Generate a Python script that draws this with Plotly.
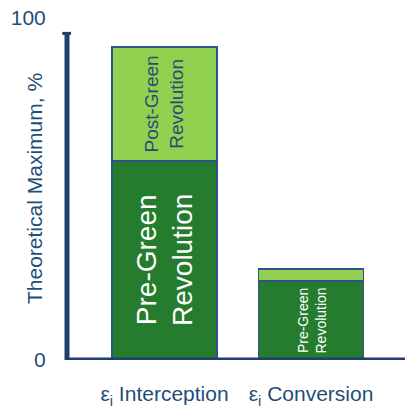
import plotly.graph_objects as go

categories = ["ε<sub>i</sub> Interception", "ε<sub>i</sub> Conversion"]
pre_green = [58.2, 23.1]
post_green = [33.3, 3.5]
y_ticks = [0, 100]
y_axis_top = 95.5

DARK = "#267C2E"
LIGHT = "#92D050"
NAVY = "#1F3F6E"
TEXT = "#1F4E79"
OUTLINE = "#2F528F"
FONT = "Liberation Sans, Arial, sans-serif"

fig = go.Figure()
fig.add_bar(x=categories, y=pre_green, width=0.717, marker=dict(color=DARK, line=dict(color=OUTLINE, width=1.5)),
            hoverinfo="skip")
fig.add_bar(x=categories, y=post_green, width=0.717, marker=dict(color=LIGHT, line=dict(color=OUTLINE, width=1.5)),
            hoverinfo="skip")

# labels inside segments
fig.add_annotation(x=categories[0], y=pre_green[0] / 2, text="Pre-Green<br>Revolution", textangle=-90,
                   showarrow=False, font=dict(family=FONT, size=28, color="white"))
fig.add_annotation(x=categories[0], y=pre_green[0] + post_green[0] / 2, text="Post-Green<br>Revolution",
                   textangle=-90, showarrow=False, font=dict(family=FONT, size=19, color=TEXT))
fig.add_annotation(x=categories[1], y=pre_green[1] / 2, text="Pre-Green<br>Revolution", textangle=-90,
                   showarrow=False, font=dict(family=FONT, size=14, color="white"))

# axis title
fig.add_annotation(xref="paper", yref="paper", x=-0.0976, y=0.5, text="Theoretical Maximum, %", textangle=-90,
                   showarrow=False, xanchor="center", yanchor="middle",
                   font=dict(family=FONT, size=21, color=TEXT))

# axis lines
fig.add_shape(type="line", xref="paper", yref="y", x0=-0.006, x1=1, y0=0, y1=0,
              line=dict(color=NAVY, width=5))
fig.add_shape(type="line", xref="paper", yref="y", x0=0, x1=0, y0=0, y1=y_axis_top,
              line=dict(color=NAVY, width=5))
fig.add_shape(type="line", xref="paper", yref="y", x0=-0.014, x1=0.012, y0=y_axis_top, y1=y_axis_top,
              line=dict(color=NAVY, width=3))

fig.update_layout(
    barmode="stack",
    width=405, height=408,
    margin=dict(l=67, r=0, t=18, b=48, autoexpand=False),
    paper_bgcolor="white", plot_bgcolor="white",
    showlegend=False,
    font=dict(family=FONT, color=TEXT, size=21),
    xaxis=dict(type="category", range=[-0.6655, 1.6416], showgrid=False, zeroline=False, showline=False,
               automargin=False,
               ticks="outside", ticklen=15, tickcolor="rgba(0,0,0,0)",
               tickfont=dict(family=FONT, size=21, color=TEXT)),
    yaxis=dict(range=[0, 100], tickvals=y_ticks, showgrid=False, zeroline=False, showline=False,
               automargin=False,
               ticks="outside", ticklen=16, tickcolor="rgba(0,0,0,0)",
               tickfont=dict(family=FONT, size=21, color=TEXT)),
)

fig.write_html("out.html")
